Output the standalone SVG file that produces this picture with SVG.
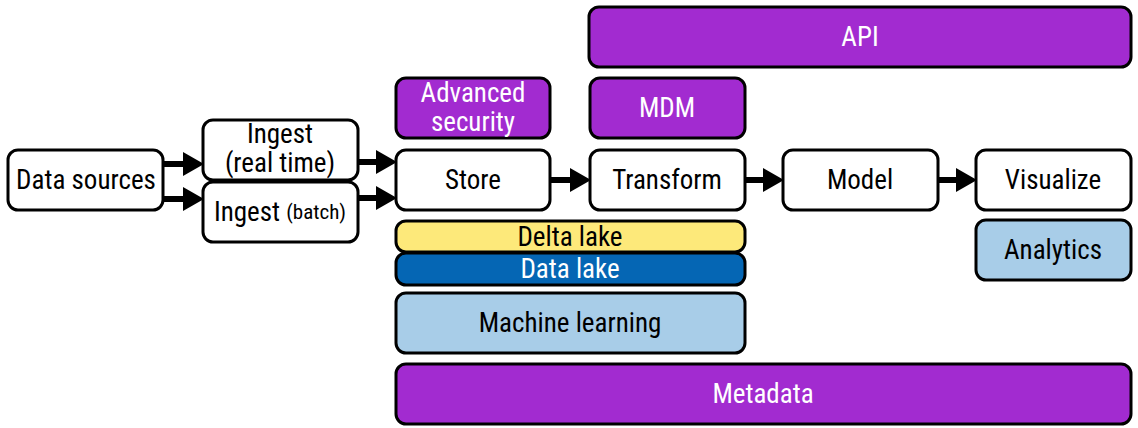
<svg xmlns="http://www.w3.org/2000/svg" width="1138" height="428" viewBox="0 0 1138 428">
<defs>
<style>
.b{stroke:#000;stroke-width:3;rx:10;ry:10}
.w{fill:#fff}
.p{fill:#a22bd0}
.y{fill:#fde97a}
.d{fill:#0566b4}
.l{fill:#a8cde8}
text{font-family:"Liberation Sans Narrow","Roboto Condensed","Liberation Sans",sans-serif;font-size:27px;text-anchor:middle;dominant-baseline:central}
.wt{fill:#fff}
.c{stroke:#000;stroke-width:6;fill:none}
.h{fill:#000}
</style>
</defs>
<g id="connectors">
<line class="c" x1="163" y1="164" x2="186" y2="164"/><polygon class="h" points="183,152 204,164 183,176"/>
<line class="c" x1="163" y1="199" x2="186" y2="199"/><polygon class="h" points="183,187 204,199 183,211"/>
<line class="c" x1="358" y1="162" x2="379" y2="162"/><polygon class="h" points="376,150 397,162 376,174"/>
<line class="c" x1="358" y1="198" x2="379" y2="198"/><polygon class="h" points="376,186 397,198 376,210"/>
<line class="c" x1="550" y1="180" x2="573" y2="180"/><polygon class="h" points="570,168 591,180 570,192"/>
<line class="c" x1="745" y1="180" x2="766" y2="180"/><polygon class="h" points="763,168 784,180 763,192"/>
<line class="c" x1="938" y1="180" x2="959" y2="180"/><polygon class="h" points="956,168 977,180 956,192"/>
</g>
<g id="api"><rect class="b p" x="589" y="7" width="542" height="60"/><text class="wt" x="860" y="37">API</text></g>
<g id="advanced-security"><rect class="b p" x="396" y="78" width="154" height="60"/><text class="wt" x="473" y="93" font-size="21">Advanced</text><text class="wt" x="473" y="122" font-size="21">security</text></g>
<g id="mdm"><rect class="b p" x="590" y="78" width="155" height="60"/><text class="wt" x="667" y="108">MDM</text></g>
<g id="data-sources"><rect class="b w" x="8" y="150" width="155" height="60"/><text x="86" y="180">Data sources</text></g>
<g id="ingest-realtime"><rect class="b w" x="203" y="120" width="155" height="60"/><text x="280" y="134" font-size="23">Ingest</text><text x="280" y="163" font-size="19">(real time)</text></g>
<g id="ingest-batch"><rect class="b w" x="203" y="182" width="155" height="60"/><text x="280" y="212">Ingest <tspan font-size="21">(batch)</tspan></text></g>
<g id="store"><rect class="b w" x="396" y="150" width="154" height="60"/><text x="473" y="180">Store</text></g>
<g id="transform"><rect class="b w" x="590" y="150" width="155" height="60"/><text x="667" y="180">Transform</text></g>
<g id="model"><rect class="b w" x="783" y="150" width="155" height="60"/><text x="860" y="180">Model</text></g>
<g id="visualize"><rect class="b w" x="976" y="150" width="155" height="60"/><text x="1053" y="180">Visualize</text></g>
<g id="delta-lake"><rect class="b y" x="396" y="221" width="349" height="31"/><text x="570" y="237" font-size="22">Delta lake</text></g>
<g id="data-lake"><rect class="b d" x="396" y="253" width="349" height="32"/><text class="wt" x="570" y="269" font-size="22">Data lake</text></g>
<g id="machine-learning"><rect class="b l" x="396" y="293" width="349" height="60"/><text x="570" y="323">Machine learning</text></g>
<g id="analytics"><rect class="b l" x="976" y="220" width="155" height="60"/><text x="1053" y="250">Analytics</text></g>
<g id="metadata"><rect class="b p" x="396" y="364" width="735" height="60"/><text class="wt" x="763" y="394">Metadata</text></g>
</svg>
